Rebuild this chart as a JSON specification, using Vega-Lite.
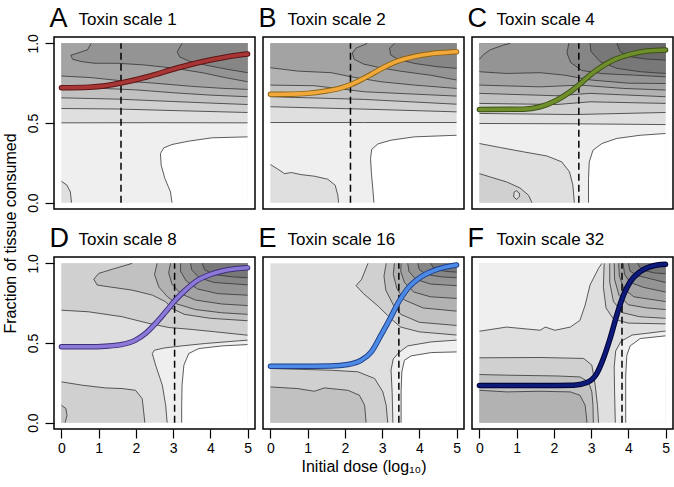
{
"$schema": "https://vega.github.io/schema/vega-lite/v6.json",
"padding": {"left": 1, "top": 3, "right": 1, "bottom": 4},
"bounds": "flush",
"columns": 3,
"spacing": {"row": 48, "column": 8},
"datasets": {
"A": [
{"i":1,"x":0,"y":0,"z":1,"c":1},{"i":1,"x":5,"y":0,"z":1,"c":1},{"i":1,"x":5,"y":1,"z":1,"c":1},{"i":1,"x":0,"y":1,"z":1,"c":1},
{"i":2,"x":5,"y":0.413,"z":0},{"i":2,"x":4.05,"y":0.407,"z":0},{"i":2,"x":3.42,"y":0.386,"z":0},{"i":2,"x":2.97,"y":0.365,"z":0},{"i":2,"x":2.75,"y":0.344,"z":0},{"i":2,"x":2.66,"y":0.308,"z":0},{"i":2,"x":2.68,"y":0.235,"z":0},{"i":2,"x":2.78,"y":0.151,"z":0},{"i":2,"x":2.93,"y":0.067,"z":0},{"i":2,"x":2.97,"y":0,"z":0},{"i":2,"x":5,"y":0,"z":0,"c":1},
{"i":3,"x":0,"y":0.134,"z":2},{"i":3,"x":0.15,"y":0.109,"z":2},{"i":3,"x":0.24,"y":0.067,"z":2},{"i":3,"x":0.27,"y":0,"z":2},{"i":3,"x":0,"y":0,"z":2,"c":1},
{"i":4,"x":0,"y":0.501,"z":2},{"i":4,"x":2.5,"y":0.502,"z":2},{"i":4,"x":5,"y":0.501,"z":2},{"i":4,"x":5,"y":1,"z":2,"c":1},{"i":4,"x":0,"y":1,"z":2,"c":1},
{"i":5,"x":0,"y":0.591,"z":3},{"i":5,"x":1.5,"y":0.588,"z":3},{"i":5,"x":3,"y":0.578,"z":3},{"i":5,"x":5,"y":0.566,"z":3},{"i":5,"x":5,"y":1,"z":3,"c":1},{"i":5,"x":0,"y":1,"z":3,"c":1},
{"i":6,"x":0,"y":0.658,"z":4},{"i":6,"x":1.5,"y":0.65,"z":4},{"i":6,"x":3,"y":0.635,"z":4},{"i":6,"x":4,"y":0.625,"z":4},{"i":6,"x":5,"y":0.616,"z":4},{"i":6,"x":5,"y":1,"z":4,"c":1},{"i":6,"x":0,"y":1,"z":4,"c":1},
{"i":7,"x":0,"y":0.721,"z":5},{"i":7,"x":1,"y":0.718,"z":5},{"i":7,"x":2,"y":0.708,"z":5},{"i":7,"x":3,"y":0.69,"z":5},{"i":7,"x":4,"y":0.675,"z":5},{"i":7,"x":5,"y":0.665,"z":5},{"i":7,"x":5,"y":1,"z":5,"c":1},{"i":7,"x":0,"y":1,"z":5,"c":1},
{"i":8,"x":0,"y":0.795,"z":6},{"i":8,"x":0.8,"y":0.785,"z":6},{"i":8,"x":1.6,"y":0.765,"z":6},{"i":8,"x":2.5,"y":0.75,"z":6},{"i":8,"x":3.5,"y":0.73,"z":6},{"i":8,"x":4.3,"y":0.718,"z":6},{"i":8,"x":5,"y":0.711,"z":6},{"i":8,"x":5,"y":1,"z":6,"c":1},{"i":8,"x":0,"y":1,"z":6,"c":1},
{"i":9,"x":0.8,"y":1,"z":7},{"i":9,"x":0.7,"y":0.96,"z":7},{"i":9,"x":0.45,"y":0.94,"z":7},{"i":9,"x":0.25,"y":0.925,"z":7},{"i":9,"x":0.3,"y":0.9,"z":7},{"i":9,"x":0.55,"y":0.885,"z":7},{"i":9,"x":0.9,"y":0.875,"z":7},{"i":9,"x":1.5,"y":0.875,"z":7},{"i":9,"x":2.2,"y":0.865,"z":7},{"i":9,"x":3,"y":0.845,"z":7},{"i":9,"x":3.8,"y":0.815,"z":7},{"i":9,"x":4.4,"y":0.785,"z":7},{"i":9,"x":5,"y":0.759,"z":7},{"i":9,"x":5,"y":1,"z":7,"c":1},
{"i":10,"x":3.24,"y":1,"z":8},{"i":10,"x":3.11,"y":0.948,"z":8},{"i":10,"x":3.17,"y":0.916,"z":8},{"i":10,"x":3.42,"y":0.889,"z":8},{"i":10,"x":3.87,"y":0.864,"z":8},{"i":10,"x":4.41,"y":0.839,"z":8},{"i":10,"x":5,"y":0.816,"z":8},{"i":10,"x":5,"y":1,"z":8,"c":1}
],
"B": [
{"i":1,"x":0,"y":0,"z":1,"c":1},{"i":1,"x":5,"y":0,"z":1,"c":1},{"i":1,"x":5,"y":1,"z":1,"c":1},{"i":1,"x":0,"y":1,"z":1,"c":1},
{"i":2,"x":5,"y":0.423,"z":0},{"i":2,"x":3.87,"y":0.413,"z":0},{"i":2,"x":3.24,"y":0.392,"z":0},{"i":2,"x":2.89,"y":0.369,"z":0},{"i":2,"x":2.72,"y":0.335,"z":0},{"i":2,"x":2.69,"y":0.277,"z":0},{"i":2,"x":2.71,"y":0.193,"z":0},{"i":2,"x":2.75,"y":0.088,"z":0},{"i":2,"x":2.78,"y":0,"z":0},{"i":2,"x":5,"y":0,"z":0,"c":1},
{"i":3,"x":0,"y":0.239,"z":2},{"i":3,"x":0.2,"y":0.21,"z":2},{"i":3,"x":0.38,"y":0.182,"z":2},{"i":3,"x":0.56,"y":0.189,"z":2},{"i":3,"x":0.82,"y":0.176,"z":2},{"i":3,"x":1.18,"y":0.166,"z":2},{"i":3,"x":1.54,"y":0.147,"z":2},{"i":3,"x":1.74,"y":0.109,"z":2},{"i":3,"x":1.81,"y":0.046,"z":2},{"i":3,"x":1.83,"y":0,"z":2},{"i":3,"x":0,"y":0,"z":2,"c":1},
{"i":4,"x":0,"y":0.503,"z":2},{"i":4,"x":2.5,"y":0.503,"z":2},{"i":4,"x":5,"y":0.503,"z":2},{"i":4,"x":5,"y":1,"z":2,"c":1},{"i":4,"x":0,"y":1,"z":2,"c":1},
{"i":5,"x":0,"y":0.602,"z":3},{"i":5,"x":2.53,"y":0.587,"z":3},{"i":5,"x":5,"y":0.57,"z":3},{"i":5,"x":5,"y":1,"z":3,"c":1},{"i":5,"x":0,"y":1,"z":3,"c":1},
{"i":6,"x":0,"y":0.665,"z":4},{"i":6,"x":2.53,"y":0.648,"z":4},{"i":6,"x":5,"y":0.618,"z":4},{"i":6,"x":5,"y":1,"z":4,"c":1},{"i":6,"x":0,"y":1,"z":4,"c":1},
{"i":7,"x":0,"y":0.738,"z":5},{"i":7,"x":1.18,"y":0.734,"z":5},{"i":7,"x":2.53,"y":0.696,"z":5},{"i":7,"x":5,"y":0.669,"z":5},{"i":7,"x":5,"y":1,"z":5,"c":1},{"i":7,"x":0,"y":1,"z":5,"c":1},
{"i":8,"x":0,"y":0.847,"z":6},{"i":8,"x":0.73,"y":0.826,"z":6},{"i":8,"x":1.63,"y":0.816,"z":6},{"i":8,"x":2.17,"y":0.79,"z":6},{"i":8,"x":2.97,"y":0.759,"z":6},{"i":8,"x":3.87,"y":0.738,"z":6},{"i":8,"x":5,"y":0.717,"z":6},{"i":8,"x":5,"y":1,"z":6,"c":1},{"i":8,"x":0,"y":1,"z":6,"c":1},
{"i":9,"x":2.6,"y":1,"z":7},{"i":9,"x":2.3,"y":0.97,"z":7},{"i":9,"x":2.2,"y":0.94,"z":7},{"i":9,"x":2.25,"y":0.9,"z":7},{"i":9,"x":2.5,"y":0.87,"z":7},{"i":9,"x":3,"y":0.845,"z":7},{"i":9,"x":3.5,"y":0.825,"z":7},{"i":9,"x":4.3,"y":0.8,"z":7},{"i":9,"x":5,"y":0.77,"z":7},{"i":9,"x":5,"y":1,"z":7,"c":1},
{"i":10,"x":3.33,"y":1,"z":8},{"i":10,"x":3.2,"y":0.969,"z":8},{"i":10,"x":3.23,"y":0.927,"z":8},{"i":10,"x":3.42,"y":0.901,"z":8},{"i":10,"x":3.87,"y":0.874,"z":8},{"i":10,"x":4.5,"y":0.853,"z":8},{"i":10,"x":5,"y":0.843,"z":8},{"i":10,"x":5,"y":1,"z":8,"c":1}
],
"C": [
{"i":1,"x":0,"y":0,"z":1,"c":1},{"i":1,"x":5,"y":0,"z":1,"c":1},{"i":1,"x":5,"y":1,"z":1,"c":1},{"i":1,"x":0,"y":1,"z":1,"c":1},
{"i":2,"x":5,"y":0.434,"z":0},{"i":2,"x":4.32,"y":0.423,"z":0},{"i":2,"x":3.69,"y":0.403,"z":0},{"i":2,"x":3.29,"y":0.371,"z":0},{"i":2,"x":3.05,"y":0.329,"z":0},{"i":2,"x":2.95,"y":0.256,"z":0},{"i":2,"x":2.93,"y":0.151,"z":0},{"i":2,"x":2.93,"y":0,"z":0},{"i":2,"x":5,"y":0,"z":0,"c":1},
{"i":3,"x":0,"y":0.371,"z":2},{"i":3,"x":0.56,"y":0.346,"z":2},{"i":3,"x":1.18,"y":0.319,"z":2},{"i":3,"x":1.81,"y":0.293,"z":2},{"i":3,"x":2.21,"y":0.256,"z":2},{"i":3,"x":2.42,"y":0.193,"z":2},{"i":3,"x":2.51,"y":0.109,"z":2},{"i":3,"x":2.55,"y":0,"z":2},{"i":3,"x":0,"y":0,"z":2,"c":1},
{"i":4,"x":0,"y":0.182,"z":3},{"i":4,"x":0.29,"y":0.161,"z":3},{"i":4,"x":0.73,"y":0.13,"z":3},{"i":4,"x":1.09,"y":0.092,"z":3},{"i":4,"x":1.32,"y":0.046,"z":3},{"i":4,"x":1.41,"y":0,"z":3},{"i":4,"x":0,"y":0,"z":3,"c":1},
{"i":5,"x":0.99,"y":0.075,"z":2},{"i":5,"x":1.07,"y":0.06,"z":2},{"i":5,"x":1.08,"y":0.04,"z":2},{"i":5,"x":1,"y":0.02,"z":2},{"i":5,"x":0.92,"y":0.035,"z":2},{"i":5,"x":0.93,"y":0.065,"z":2},{"i":5,"x":0.99,"y":0.075,"z":2},
{"i":6,"x":0,"y":0.497,"z":2},{"i":6,"x":2.5,"y":0.495,"z":2},{"i":6,"x":5,"y":0.49,"z":2},{"i":6,"x":5,"y":1,"z":2,"c":1},{"i":6,"x":0,"y":1,"z":2,"c":1},
{"i":7,"x":0,"y":0.56,"z":3},{"i":7,"x":2.53,"y":0.553,"z":3},{"i":7,"x":5,"y":0.566,"z":3},{"i":7,"x":5,"y":1,"z":3,"c":1},{"i":7,"x":0,"y":1,"z":3,"c":1},
{"i":8,"x":0,"y":0.623,"z":4},{"i":8,"x":2.08,"y":0.616,"z":4},{"i":8,"x":2.97,"y":0.633,"z":4},{"i":8,"x":5,"y":0.623,"z":4},{"i":8,"x":5,"y":1,"z":4,"c":1},{"i":8,"x":0,"y":1,"z":4,"c":1},
{"i":9,"x":0,"y":0.686,"z":5},{"i":9,"x":2.08,"y":0.671,"z":5},{"i":9,"x":2.97,"y":0.686,"z":5},{"i":9,"x":5,"y":0.665,"z":5},{"i":9,"x":5,"y":1,"z":5,"c":1},{"i":9,"x":0,"y":1,"z":5,"c":1},
{"i":10,"x":0,"y":0.738,"z":6},{"i":10,"x":1.63,"y":0.727,"z":6},{"i":10,"x":2.7,"y":0.738,"z":6},{"i":10,"x":3.87,"y":0.717,"z":6},{"i":10,"x":5,"y":0.707,"z":6},{"i":10,"x":5,"y":1,"z":6,"c":1},{"i":10,"x":0,"y":1,"z":6,"c":1},
{"i":11,"x":0,"y":0.822,"z":7},{"i":11,"x":0.73,"y":0.811,"z":7},{"i":11,"x":1.63,"y":0.816,"z":7},{"i":11,"x":2.3,"y":0.8,"z":7},{"i":11,"x":3,"y":0.77,"z":7},{"i":11,"x":4,"y":0.75,"z":7},{"i":11,"x":5,"y":0.748,"z":7},{"i":11,"x":5,"y":1,"z":7,"c":1},{"i":11,"x":0,"y":1,"z":7,"c":1},
{"i":12,"x":0,"y":0.9,"z":6},{"i":12,"x":0.11,"y":0.93,"z":6},{"i":12,"x":0.29,"y":0.96,"z":6},{"i":12,"x":0.65,"y":0.99,"z":6},{"i":12,"x":0.83,"y":1,"z":6},{"i":12,"x":0,"y":1,"z":6,"c":1},
{"i":13,"x":2.4,"y":1,"z":8},{"i":13,"x":2.35,"y":0.94,"z":8},{"i":13,"x":2.45,"y":0.88,"z":8},{"i":13,"x":2.75,"y":0.83,"z":8},{"i":13,"x":3.3,"y":0.81,"z":8},{"i":13,"x":4.2,"y":0.8,"z":8},{"i":13,"x":5,"y":0.79,"z":8},{"i":13,"x":5,"y":1,"z":8,"c":1},
{"i":14,"x":2.97,"y":1,"z":9},{"i":14,"x":3,"y":0.948,"z":9},{"i":14,"x":3.24,"y":0.885,"z":9},{"i":14,"x":3.7,"y":0.843,"z":9},{"i":14,"x":4.32,"y":0.822,"z":9},{"i":14,"x":5,"y":0.811,"z":9},{"i":14,"x":5,"y":1,"z":9,"c":1},
{"i":15,"x":3.69,"y":1,"z":10},{"i":15,"x":3.78,"y":0.948,"z":10},{"i":15,"x":4.05,"y":0.916,"z":10},{"i":15,"x":4.5,"y":0.901,"z":10},{"i":15,"x":5,"y":0.895,"z":10},{"i":15,"x":5,"y":1,"z":10,"c":1}
],
"D": [
{"i":1,"x":0,"y":0,"z":2,"c":1},{"i":1,"x":5,"y":0,"z":2,"c":1},{"i":1,"x":5,"y":1,"z":2,"c":1},{"i":1,"x":0,"y":1,"z":2,"c":1},
{"i":2,"x":2.84,"y":0,"z":1},{"i":2,"x":2.8,"y":0.109,"z":1},{"i":2,"x":2.71,"y":0.235,"z":1},{"i":2,"x":2.53,"y":0.361,"z":1},{"i":2,"x":2.44,"y":0.434,"z":1},{"i":2,"x":2.5,"y":0.455,"z":1},{"i":2,"x":2.77,"y":0.469,"z":1},{"i":2,"x":3.24,"y":0.482,"z":1},{"i":2,"x":3.87,"y":0.497,"z":1},{"i":2,"x":5,"y":0.518,"z":1},{"i":2,"x":5,"y":0,"z":1,"c":1},
{"i":3,"x":5,"y":0.49,"z":0},{"i":3,"x":4.32,"y":0.482,"z":0},{"i":3,"x":3.69,"y":0.465,"z":0},{"i":3,"x":3.42,"y":0.434,"z":0},{"i":3,"x":3.29,"y":0.361,"z":0},{"i":3,"x":3.24,"y":0.235,"z":0},{"i":3,"x":3.23,"y":0.109,"z":0},{"i":3,"x":3.23,"y":0,"z":0},{"i":3,"x":5,"y":0,"z":0,"c":1},
{"i":4,"x":0,"y":0.256,"z":3},{"i":4,"x":0.56,"y":0.235,"z":3},{"i":4,"x":1.18,"y":0.218,"z":3},{"i":4,"x":1.63,"y":0.214,"z":3},{"i":4,"x":1.99,"y":0.203,"z":3},{"i":4,"x":2.17,"y":0.151,"z":3},{"i":4,"x":2.21,"y":0.067,"z":3},{"i":4,"x":2.24,"y":0,"z":3},{"i":4,"x":0,"y":0,"z":3,"c":1},
{"i":5,"x":0,"y":0.109,"z":4},{"i":5,"x":0.12,"y":0.088,"z":4},{"i":5,"x":0.15,"y":0.046,"z":4},{"i":5,"x":0.1,"y":0,"z":4},{"i":5,"x":0,"y":0,"z":4,"c":1},
{"i":6,"x":0,"y":0.706,"z":3},{"i":6,"x":0.73,"y":0.696,"z":3},{"i":6,"x":1.63,"y":0.665,"z":3},{"i":6,"x":2.35,"y":0.623,"z":3},{"i":6,"x":2.89,"y":0.597,"z":3},{"i":6,"x":3.42,"y":0.587,"z":3},{"i":6,"x":4.14,"y":0.57,"z":3},{"i":6,"x":5,"y":0.549,"z":3},{"i":6,"x":5,"y":1,"z":3,"c":1},{"i":6,"x":0,"y":1,"z":3,"c":1},
{"i":7,"x":1.9,"y":1,"z":4},{"i":7,"x":1.45,"y":0.969,"z":4},{"i":7,"x":1,"y":0.937,"z":4},{"i":7,"x":0.87,"y":0.9,"z":4},{"i":7,"x":0.96,"y":0.864,"z":4},{"i":7,"x":1.27,"y":0.853,"z":4},{"i":7,"x":1.9,"y":0.832,"z":4},{"i":7,"x":2.44,"y":0.801,"z":4},{"i":7,"x":2.8,"y":0.759,"z":4},{"i":7,"x":2.97,"y":0.717,"z":4},{"i":7,"x":3.3,"y":0.68,"z":4},{"i":7,"x":4,"y":0.655,"z":4},{"i":7,"x":5,"y":0.64,"z":4},{"i":7,"x":5,"y":1,"z":4,"c":1},
{"i":8,"x":2.57,"y":1,"z":5},{"i":8,"x":2.5,"y":0.93,"z":5},{"i":8,"x":2.62,"y":0.85,"z":5},{"i":8,"x":2.85,"y":0.79,"z":5},{"i":8,"x":3.1,"y":0.745,"z":5},{"i":8,"x":3.6,"y":0.71,"z":5},{"i":8,"x":4.3,"y":0.69,"z":5},{"i":8,"x":5,"y":0.68,"z":5},{"i":8,"x":5,"y":1,"z":5,"c":1},
{"i":9,"x":2.93,"y":1,"z":6},{"i":9,"x":2.88,"y":0.94,"z":6},{"i":9,"x":2.97,"y":0.87,"z":6},{"i":9,"x":3.2,"y":0.81,"z":6},{"i":9,"x":3.6,"y":0.77,"z":6},{"i":9,"x":4.3,"y":0.745,"z":6},{"i":9,"x":5,"y":0.735,"z":6},{"i":9,"x":5,"y":1,"z":6,"c":1},
{"i":10,"x":3.2,"y":1,"z":7},{"i":10,"x":3.2,"y":0.95,"z":7},{"i":10,"x":3.35,"y":0.89,"z":7},{"i":10,"x":3.65,"y":0.84,"z":7},{"i":10,"x":4.2,"y":0.81,"z":7},{"i":10,"x":5,"y":0.8,"z":7},{"i":10,"x":5,"y":1,"z":7,"c":1},
{"i":11,"x":3.47,"y":1,"z":8},{"i":11,"x":3.5,"y":0.96,"z":8},{"i":11,"x":3.7,"y":0.91,"z":8},{"i":11,"x":4.1,"y":0.88,"z":8},{"i":11,"x":5,"y":0.865,"z":8},{"i":11,"x":5,"y":1,"z":8,"c":1},
{"i":12,"x":3.78,"y":1,"z":9},{"i":12,"x":3.85,"y":0.96,"z":9},{"i":12,"x":4.1,"y":0.93,"z":9},{"i":12,"x":4.6,"y":0.915,"z":9},{"i":12,"x":5,"y":0.91,"z":9},{"i":12,"x":5,"y":1,"z":9,"c":1}
],
"E": [
{"i":1,"x":0,"y":0,"z":2,"c":1},{"i":1,"x":5,"y":0,"z":2,"c":1},{"i":1,"x":5,"y":1,"z":2,"c":1},{"i":1,"x":0,"y":1,"z":2,"c":1},
{"i":2,"x":3.29,"y":0,"z":1},{"i":2,"x":3.27,"y":0.19,"z":1},{"i":2,"x":3.24,"y":0.33,"z":1},{"i":2,"x":3.3,"y":0.4,"z":1},{"i":2,"x":3.45,"y":0.44,"z":1},{"i":2,"x":3.69,"y":0.482,"z":1},{"i":2,"x":4.32,"y":0.507,"z":1},{"i":2,"x":5,"y":0.518,"z":1},{"i":2,"x":5,"y":0,"z":1,"c":1},
{"i":3,"x":5,"y":0.444,"z":0},{"i":3,"x":4.32,"y":0.44,"z":0},{"i":3,"x":3.78,"y":0.419,"z":0},{"i":3,"x":3.6,"y":0.392,"z":0},{"i":3,"x":3.53,"y":0.319,"z":0},{"i":3,"x":3.51,"y":0.193,"z":0},{"i":3,"x":3.51,"y":0,"z":0},{"i":3,"x":5,"y":0,"z":0,"c":1},
{"i":4,"x":0,"y":0.34,"z":3},{"i":4,"x":1.63,"y":0.329,"z":3},{"i":4,"x":2.35,"y":0.319,"z":3},{"i":4,"x":2.8,"y":0.277,"z":3},{"i":4,"x":3.02,"y":0.193,"z":3},{"i":4,"x":3.11,"y":0.109,"z":3},{"i":4,"x":3.15,"y":0,"z":3},{"i":4,"x":0,"y":0,"z":3,"c":1},
{"i":5,"x":0,"y":0.224,"z":4},{"i":5,"x":0.73,"y":0.214,"z":4},{"i":5,"x":1.18,"y":0.197,"z":4},{"i":5,"x":1.45,"y":0.218,"z":4},{"i":5,"x":2.08,"y":0.203,"z":4},{"i":5,"x":2.39,"y":0.172,"z":4},{"i":5,"x":2.53,"y":0.109,"z":4},{"i":5,"x":2.57,"y":0,"z":4},{"i":5,"x":0,"y":0,"z":4,"c":1},
{"i":6,"x":2.62,"y":1,"z":3},{"i":6,"x":2.45,"y":0.9,"z":3},{"i":6,"x":2.3,"y":0.86,"z":3},{"i":6,"x":2.5,"y":0.81,"z":3},{"i":6,"x":2.9,"y":0.73,"z":3},{"i":6,"x":3.25,"y":0.65,"z":3},{"i":6,"x":3.5,"y":0.6,"z":3},{"i":6,"x":4,"y":0.57,"z":3},{"i":6,"x":5,"y":0.55,"z":3},{"i":6,"x":5,"y":1,"z":3,"c":1},
{"i":7,"x":3.11,"y":1,"z":4},{"i":7,"x":3.05,"y":0.92,"z":4},{"i":7,"x":3.1,"y":0.83,"z":4},{"i":7,"x":3.3,"y":0.74,"z":4},{"i":7,"x":3.5,"y":0.68,"z":4},{"i":7,"x":4,"y":0.63,"z":4},{"i":7,"x":5,"y":0.61,"z":4},{"i":7,"x":5,"y":1,"z":4,"c":1},
{"i":8,"x":3.33,"y":1,"z":5},{"i":8,"x":3.3,"y":0.93,"z":5},{"i":8,"x":3.4,"y":0.84,"z":5},{"i":8,"x":3.6,"y":0.77,"z":5},{"i":8,"x":4.1,"y":0.72,"z":5},{"i":8,"x":5,"y":0.7,"z":5},{"i":8,"x":5,"y":1,"z":5,"c":1},
{"i":9,"x":3.51,"y":1,"z":6},{"i":9,"x":3.5,"y":0.95,"z":6},{"i":9,"x":3.6,"y":0.88,"z":6},{"i":9,"x":3.85,"y":0.82,"z":6},{"i":9,"x":4.3,"y":0.79,"z":6},{"i":9,"x":5,"y":0.78,"z":6},{"i":9,"x":5,"y":1,"z":6,"c":1},
{"i":10,"x":3.69,"y":1,"z":7},{"i":10,"x":3.72,"y":0.95,"z":7},{"i":10,"x":3.9,"y":0.9,"z":7},{"i":10,"x":4.3,"y":0.87,"z":7},{"i":10,"x":5,"y":0.86,"z":7},{"i":10,"x":5,"y":1,"z":7,"c":1},
{"i":11,"x":3.96,"y":1,"z":8},{"i":11,"x":4,"y":0.96,"z":8},{"i":11,"x":4.2,"y":0.93,"z":8},{"i":11,"x":4.6,"y":0.915,"z":8},{"i":11,"x":5,"y":0.91,"z":8},{"i":11,"x":5,"y":1,"z":8,"c":1},
{"i":12,"x":4.3,"y":1,"z":9},{"i":12,"x":4.4,"y":0.965,"z":9},{"i":12,"x":4.7,"y":0.95,"z":9},{"i":12,"x":5,"y":0.945,"z":9},{"i":12,"x":5,"y":1,"z":9,"c":1}
],
"F": [
{"i":1,"x":0,"y":0,"z":2,"c":1},{"i":1,"x":5,"y":0,"z":2,"c":1},{"i":1,"x":5,"y":1,"z":2,"c":1},{"i":1,"x":0,"y":1,"z":2,"c":1},
{"i":2,"x":3.65,"y":0,"z":1},{"i":2,"x":3.63,"y":0.2,"z":1},{"i":2,"x":3.62,"y":0.35,"z":1},{"i":2,"x":3.66,"y":0.45,"z":1},{"i":2,"x":3.8,"y":0.51,"z":1},{"i":2,"x":4.1,"y":0.55,"z":1},{"i":2,"x":5,"y":0.575,"z":1},{"i":2,"x":5,"y":0,"z":1,"c":1},
{"i":3,"x":5,"y":0.545,"z":0},{"i":3,"x":4.32,"y":0.528,"z":0},{"i":3,"x":4.05,"y":0.482,"z":0},{"i":3,"x":3.96,"y":0.423,"z":0},{"i":3,"x":3.93,"y":0.298,"z":0},{"i":3,"x":3.93,"y":0,"z":0},{"i":3,"x":5,"y":0,"z":0,"c":1},
{"i":4,"x":0,"y":0.574,"z":1},{"i":4,"x":0.73,"y":0.6,"z":1},{"i":4,"x":1.63,"y":0.58,"z":1},{"i":4,"x":1.77,"y":0.6,"z":1},{"i":4,"x":2.03,"y":0.58,"z":1},{"i":4,"x":2.44,"y":0.6,"z":1},{"i":4,"x":2.7,"y":0.642,"z":1},{"i":4,"x":2.84,"y":0.738,"z":1},{"i":4,"x":2.97,"y":0.864,"z":1},{"i":4,"x":3.2,"y":0.969,"z":1},{"i":4,"x":3.29,"y":1,"z":1},{"i":4,"x":0,"y":1,"z":1,"c":1},
{"i":5,"x":0,"y":0.407,"z":3},{"i":5,"x":1.63,"y":0.409,"z":3},{"i":5,"x":2.8,"y":0.403,"z":3},{"i":5,"x":3.02,"y":0.361,"z":3},{"i":5,"x":3.11,"y":0.235,"z":3},{"i":5,"x":3.17,"y":0.109,"z":3},{"i":5,"x":3.2,"y":0,"z":3},{"i":5,"x":0,"y":0,"z":3,"c":1},
{"i":6,"x":0,"y":0.302,"z":4},{"i":6,"x":0.73,"y":0.298,"z":4},{"i":6,"x":2.08,"y":0.293,"z":4},{"i":6,"x":2.7,"y":0.287,"z":4},{"i":6,"x":2.93,"y":0.256,"z":4},{"i":6,"x":3.02,"y":0.193,"z":4},{"i":6,"x":3.05,"y":0.109,"z":4},{"i":6,"x":3.06,"y":0,"z":4},{"i":6,"x":0,"y":0,"z":4,"c":1},
{"i":7,"x":0,"y":0.203,"z":5},{"i":7,"x":0.73,"y":0.193,"z":5},{"i":7,"x":1.63,"y":0.197,"z":5},{"i":7,"x":2.44,"y":0.193,"z":5},{"i":7,"x":2.7,"y":0.172,"z":5},{"i":7,"x":2.84,"y":0.109,"z":5},{"i":7,"x":2.89,"y":0,"z":5},{"i":7,"x":0,"y":0,"z":5,"c":1},
{"i":8,"x":3.35,"y":1,"z":3},{"i":8,"x":3.33,"y":0.85,"z":3},{"i":8,"x":3.4,"y":0.72,"z":3},{"i":8,"x":3.6,"y":0.65,"z":3},{"i":8,"x":4,"y":0.625,"z":3},{"i":8,"x":5,"y":0.62,"z":3},{"i":8,"x":5,"y":1,"z":3,"c":1},
{"i":9,"x":3.5,"y":1,"z":4},{"i":9,"x":3.5,"y":0.88,"z":4},{"i":9,"x":3.6,"y":0.76,"z":4},{"i":9,"x":3.85,"y":0.69,"z":4},{"i":9,"x":4.3,"y":0.665,"z":4},{"i":9,"x":5,"y":0.655,"z":4},{"i":9,"x":5,"y":1,"z":4,"c":1},
{"i":10,"x":3.62,"y":1,"z":5},{"i":10,"x":3.63,"y":0.9,"z":5},{"i":10,"x":3.75,"y":0.8,"z":5},{"i":10,"x":4,"y":0.74,"z":5},{"i":10,"x":4.5,"y":0.72,"z":5},{"i":10,"x":5,"y":0.71,"z":5},{"i":10,"x":5,"y":1,"z":5,"c":1},
{"i":11,"x":3.74,"y":1,"z":6},{"i":11,"x":3.76,"y":0.92,"z":6},{"i":11,"x":3.88,"y":0.84,"z":6},{"i":11,"x":4.15,"y":0.79,"z":6},{"i":11,"x":5,"y":0.76,"z":6},{"i":11,"x":5,"y":1,"z":6,"c":1},
{"i":12,"x":3.86,"y":1,"z":7},{"i":12,"x":3.9,"y":0.93,"z":7},{"i":12,"x":4.05,"y":0.88,"z":7},{"i":12,"x":4.4,"y":0.85,"z":7},{"i":12,"x":5,"y":0.82,"z":7},{"i":12,"x":5,"y":1,"z":7,"c":1},
{"i":13,"x":4,"y":1,"z":8},{"i":13,"x":4.05,"y":0.95,"z":8},{"i":13,"x":4.3,"y":0.92,"z":8},{"i":13,"x":5,"y":0.88,"z":8},{"i":13,"x":5,"y":1,"z":8,"c":1},
{"i":14,"x":4.25,"y":1,"z":9},{"i":14,"x":4.35,"y":0.96,"z":9},{"i":14,"x":4.7,"y":0.94,"z":9},{"i":14,"x":5,"y":0.935,"z":9},{"i":14,"x":5,"y":1,"z":9,"c":1}
],
"sA": [{"x":0,"y":0.721},{"x":0.74,"y":0.725},{"x":1.18,"y":0.734},{"x":1.63,"y":0.753},{"x":2.08,"y":0.776},{"x":2.53,"y":0.805},{"x":2.97,"y":0.836},{"x":3.42,"y":0.864},{"x":3.87,"y":0.889},{"x":4.32,"y":0.91},{"x":4.77,"y":0.927},{"x":5,"y":0.933}],
"sB": [{"x":0,"y":0.68},{"x":0.56,"y":0.681},{"x":1,"y":0.686},{"x":1.45,"y":0.699},{"x":1.9,"y":0.72},{"x":2.15,"y":0.74},{"x":2.44,"y":0.772},{"x":2.71,"y":0.806},{"x":2.97,"y":0.84},{"x":3.42,"y":0.889},{"x":3.87,"y":0.918},{"x":4.32,"y":0.935},{"x":4.77,"y":0.944},{"x":5,"y":0.948}],
"sC": [{"x":0,"y":0.585},{"x":1.18,"y":0.587},{"x":1.63,"y":0.602},{"x":2.08,"y":0.644},{"x":2.44,"y":0.696},{"x":2.69,"y":0.742},{"x":2.97,"y":0.801},{"x":3.24,"y":0.847},{"x":3.6,"y":0.895},{"x":4.05,"y":0.931},{"x":4.5,"y":0.952},{"x":5,"y":0.958}],
"sD": [{"x":0,"y":0.476},{"x":0.73,"y":0.476},{"x":1.18,"y":0.48},{"x":1.63,"y":0.491},{"x":1.99,"y":0.518},{"x":2.26,"y":0.56},{"x":2.53,"y":0.623},{"x":2.8,"y":0.696},{"x":3.06,"y":0.769},{"x":3.33,"y":0.832},{"x":3.6,"y":0.885},{"x":3.96,"y":0.927},{"x":4.32,"y":0.952},{"x":4.68,"y":0.966},{"x":5,"y":0.973}],
"sE": [{"x":0,"y":0.354},{"x":0.73,"y":0.354},{"x":1.63,"y":0.356},{"x":2.08,"y":0.365},{"x":2.44,"y":0.392},{"x":2.71,"y":0.444},{"x":2.97,"y":0.549},{"x":3.24,"y":0.665},{"x":3.42,"y":0.748},{"x":3.69,"y":0.843},{"x":4.05,"y":0.916},{"x":4.5,"y":0.964},{"x":5,"y":0.99}],
"sF": [{"x":0,"y":0.233},{"x":0.73,"y":0.233},{"x":1.63,"y":0.233},{"x":2.53,"y":0.235},{"x":2.89,"y":0.252},{"x":3.15,"y":0.308},{"x":3.33,"y":0.403},{"x":3.51,"y":0.528},{"x":3.69,"y":0.675},{"x":3.87,"y":0.801},{"x":4.05,"y":0.885},{"x":4.32,"y":0.948},{"x":4.68,"y":0.985},{"x":5,"y":0.994}],
"d": [{"p":"A","x":1.6,"y":0,"y2":1},{"p":"B","x":2.15,"y":0,"y2":1},{"p":"C","x":2.67,"y":0,"y2":1},{"p":"D","x":3.04,"y":0,"y2":1},{"p":"E","x":3.45,"y":0,"y2":1},{"p":"F","x":3.83,"y":0,"y2":1}]
},
"concat": [
{"width":201,"height":172,"resolve":{"axis":{"x":"independent","y":"independent"}},
"encoding":{"x":{"field":"x","type":"quantitative","scale":{"domain":[-0.2,5.2],"nice":false,"zero":false},"axis":null},"y":{"field":"y","type":"quantitative","scale":{"domain":[-0.04,1.04],"nice":false,"zero":false},"axis":null}},
"layer":[
{"data":{"name":"A"},"mark":{"type":"line","strokeWidth":0},"encoding":{"y":{"field":"y","type":"quantitative","axis":{"orient":"left","values":[0,0.5,1],"format":".1f","title":"Fraction of tissue consumed","titleX":-44,"titleY":196,"titleAngle":-90,"titleAlign":"center","titleBaseline":"middle","titleFontSize":16}},"detail":{"field":"i","type":"nominal"},"order":{"value":null},"fill":{"field":"z","type":"quantitative","scale":{"domain":[0,10],"range":["#ffffff","#6a6a6a"]},"legend":null}}},
{"data":{"name":"A"},"transform":[{"filter":"!datum.c"}],"mark":{"type":"line","color":"#333333","strokeWidth":0.8},"encoding":{"x":{"field":"x","type":"quantitative","axis":{"orient":"top","title":"A"}},"detail":{"field":"i","type":"nominal"},"order":{"value":null}}},
{"data":{"name":"d"},"transform":[{"filter":"datum.p=='A'"}],"mark":{"type":"rule","color":"#000000","strokeWidth":1.5,"strokeDash":[7,4]},"encoding":{"y2":{"field":"y2"}}},
{"data":{"name":"sA"},"mark":{"type":"line","color":"#5c1414","strokeWidth":5.5,"interpolate":"monotone","strokeCap":"round"},"encoding":{}},
{"data":{"name":"sA"},"mark":{"type":"line","color":"#a93636","strokeWidth":3.6,"interpolate":"monotone","strokeCap":"round"},"encoding":{"y":{"field":"y","type":"quantitative","axis":{"orient":"right","title":"Toxin scale 1"}}}}
]},
{"width":201,"height":172,"resolve":{"axis":{"x":"independent","y":"independent"}},
"encoding":{"x":{"field":"x","type":"quantitative","scale":{"domain":[-0.2,5.2],"nice":false,"zero":false},"axis":null},"y":{"field":"y","type":"quantitative","scale":{"domain":[-0.04,1.04],"nice":false,"zero":false},"axis":null}},
"layer":[
{"data":{"name":"B"},"mark":{"type":"line","strokeWidth":0},"encoding":{"detail":{"field":"i","type":"nominal"},"order":{"value":null},"fill":{"field":"z","type":"quantitative","scale":{"domain":[0,10],"range":["#ffffff","#6a6a6a"]},"legend":null}}},
{"data":{"name":"B"},"transform":[{"filter":"!datum.c"}],"mark":{"type":"line","color":"#333333","strokeWidth":0.8},"encoding":{"x":{"field":"x","type":"quantitative","axis":{"orient":"top","title":"B"}},"detail":{"field":"i","type":"nominal"},"order":{"value":null}}},
{"data":{"name":"d"},"transform":[{"filter":"datum.p=='B'"}],"mark":{"type":"rule","color":"#000000","strokeWidth":1.5,"strokeDash":[7,4]},"encoding":{"y2":{"field":"y2"}}},
{"data":{"name":"sB"},"mark":{"type":"line","color":"#8c6414","strokeWidth":5.5,"interpolate":"monotone","strokeCap":"round"},"encoding":{}},
{"data":{"name":"sB"},"mark":{"type":"line","color":"#f2a93b","strokeWidth":3.6,"interpolate":"monotone","strokeCap":"round"},"encoding":{"y":{"field":"y","type":"quantitative","axis":{"orient":"right","title":"Toxin scale 2"}}}}
]},
{"width":201,"height":172,"resolve":{"axis":{"x":"independent","y":"independent"}},
"encoding":{"x":{"field":"x","type":"quantitative","scale":{"domain":[-0.2,5.2],"nice":false,"zero":false},"axis":null},"y":{"field":"y","type":"quantitative","scale":{"domain":[-0.04,1.04],"nice":false,"zero":false},"axis":null}},
"layer":[
{"data":{"name":"C"},"mark":{"type":"line","strokeWidth":0},"encoding":{"detail":{"field":"i","type":"nominal"},"order":{"value":null},"fill":{"field":"z","type":"quantitative","scale":{"domain":[0,10],"range":["#ffffff","#6a6a6a"]},"legend":null}}},
{"data":{"name":"C"},"transform":[{"filter":"!datum.c"}],"mark":{"type":"line","color":"#333333","strokeWidth":0.8},"encoding":{"x":{"field":"x","type":"quantitative","axis":{"orient":"top","title":"C"}},"detail":{"field":"i","type":"nominal"},"order":{"value":null}}},
{"data":{"name":"d"},"transform":[{"filter":"datum.p=='C'"}],"mark":{"type":"rule","color":"#000000","strokeWidth":1.5,"strokeDash":[7,4]},"encoding":{"y2":{"field":"y2"}}},
{"data":{"name":"sC"},"mark":{"type":"line","color":"#3d5014","strokeWidth":5.5,"interpolate":"monotone","strokeCap":"round"},"encoding":{}},
{"data":{"name":"sC"},"mark":{"type":"line","color":"#6f8f2c","strokeWidth":3.6,"interpolate":"monotone","strokeCap":"round"},"encoding":{"y":{"field":"y","type":"quantitative","axis":{"orient":"right","title":"Toxin scale 4"}}}}
]},
{"width":201,"height":172,"resolve":{"axis":{"x":"independent","y":"independent"}},
"encoding":{"x":{"field":"x","type":"quantitative","scale":{"domain":[-0.2,5.2],"nice":false,"zero":false},"axis":null},"y":{"field":"y","type":"quantitative","scale":{"domain":[-0.04,1.04],"nice":false,"zero":false},"axis":null}},
"layer":[
{"data":{"name":"D"},"mark":{"type":"line","strokeWidth":0},"encoding":{"x":{"field":"x","type":"quantitative","axis":{"orient":"bottom","values":[0,1,2,3,4,5],"title":null}},"y":{"field":"y","type":"quantitative","axis":{"orient":"left","values":[0,0.5,1],"format":".1f","title":null}},"detail":{"field":"i","type":"nominal"},"order":{"value":null},"fill":{"field":"z","type":"quantitative","scale":{"domain":[0,10],"range":["#ffffff","#6a6a6a"]},"legend":null}}},
{"data":{"name":"D"},"transform":[{"filter":"!datum.c"}],"mark":{"type":"line","color":"#333333","strokeWidth":0.8},"encoding":{"x":{"field":"x","type":"quantitative","axis":{"orient":"top","title":"D"}},"detail":{"field":"i","type":"nominal"},"order":{"value":null}}},
{"data":{"name":"d"},"transform":[{"filter":"datum.p=='D'"}],"mark":{"type":"rule","color":"#000000","strokeWidth":1.5,"strokeDash":[7,4]},"encoding":{"y2":{"field":"y2"}}},
{"data":{"name":"sD"},"mark":{"type":"line","color":"#3e2f7a","strokeWidth":5.5,"interpolate":"monotone","strokeCap":"round"},"encoding":{}},
{"data":{"name":"sD"},"mark":{"type":"line","color":"#8c78d6","strokeWidth":3.6,"interpolate":"monotone","strokeCap":"round"},"encoding":{"y":{"field":"y","type":"quantitative","axis":{"orient":"right","title":"Toxin scale 8"}}}}
]},
{"width":201,"height":172,"resolve":{"axis":{"x":"independent","y":"independent"}},
"encoding":{"x":{"field":"x","type":"quantitative","scale":{"domain":[-0.2,5.2],"nice":false,"zero":false},"axis":null},"y":{"field":"y","type":"quantitative","scale":{"domain":[-0.04,1.04],"nice":false,"zero":false},"axis":null}},
"layer":[
{"data":{"name":"E"},"mark":{"type":"line","strokeWidth":0},"encoding":{"x":{"field":"x","type":"quantitative","axis":{"orient":"bottom","values":[0,1,2,3,4,5],"title":"Initial dose (log\u2081\u2080)"}},"detail":{"field":"i","type":"nominal"},"order":{"value":null},"fill":{"field":"z","type":"quantitative","scale":{"domain":[0,10],"range":["#ffffff","#6a6a6a"]},"legend":null}}},
{"data":{"name":"E"},"transform":[{"filter":"!datum.c"}],"mark":{"type":"line","color":"#333333","strokeWidth":0.8},"encoding":{"x":{"field":"x","type":"quantitative","axis":{"orient":"top","title":"E"}},"detail":{"field":"i","type":"nominal"},"order":{"value":null}}},
{"data":{"name":"d"},"transform":[{"filter":"datum.p=='E'"}],"mark":{"type":"rule","color":"#000000","strokeWidth":1.5,"strokeDash":[7,4]},"encoding":{"y2":{"field":"y2"}}},
{"data":{"name":"sE"},"mark":{"type":"line","color":"#1c3f8a","strokeWidth":5.5,"interpolate":"monotone","strokeCap":"round"},"encoding":{}},
{"data":{"name":"sE"},"mark":{"type":"line","color":"#4d8ae6","strokeWidth":3.6,"interpolate":"monotone","strokeCap":"round"},"encoding":{"y":{"field":"y","type":"quantitative","axis":{"orient":"right","title":"Toxin scale 16"}}}}
]},
{"width":201,"height":172,"resolve":{"axis":{"x":"independent","y":"independent"}},
"encoding":{"x":{"field":"x","type":"quantitative","scale":{"domain":[-0.2,5.2],"nice":false,"zero":false},"axis":null},"y":{"field":"y","type":"quantitative","scale":{"domain":[-0.04,1.04],"nice":false,"zero":false},"axis":null}},
"layer":[
{"data":{"name":"F"},"mark":{"type":"line","strokeWidth":0},"encoding":{"x":{"field":"x","type":"quantitative","axis":{"orient":"bottom","values":[0,1,2,3,4,5],"title":null}},"detail":{"field":"i","type":"nominal"},"order":{"value":null},"fill":{"field":"z","type":"quantitative","scale":{"domain":[0,10],"range":["#ffffff","#6a6a6a"]},"legend":null}}},
{"data":{"name":"F"},"transform":[{"filter":"!datum.c"}],"mark":{"type":"line","color":"#333333","strokeWidth":0.8},"encoding":{"x":{"field":"x","type":"quantitative","axis":{"orient":"top","title":"F"}},"detail":{"field":"i","type":"nominal"},"order":{"value":null}}},
{"data":{"name":"d"},"transform":[{"filter":"datum.p=='F'"}],"mark":{"type":"rule","color":"#000000","strokeWidth":1.5,"strokeDash":[7,4]},"encoding":{"y2":{"field":"y2"}}},
{"data":{"name":"sF"},"mark":{"type":"line","color":"#000033","strokeWidth":5.5,"interpolate":"monotone","strokeCap":"round"},"encoding":{}},
{"data":{"name":"sF"},"mark":{"type":"line","color":"#0d1a7a","strokeWidth":3.6,"interpolate":"monotone","strokeCap":"round"},"encoding":{"y":{"field":"y","type":"quantitative","axis":{"orient":"right","title":"Toxin scale 32"}}}}
]}
],
"config": {
"view": {"stroke": "#000000", "strokeWidth": 1.5},
"font": "Liberation Sans",
"axis": {"domain": false, "grid": false, "tickColor": "#000000", "tickSize": 9, "tickWidth": 1.2, "labelFont": "Liberation Sans", "labelFontSize": 14, "labelColor": "#000000", "titleFont": "Liberation Sans", "titleFontSize": 16, "titleFontWeight": "normal", "titleColor": "#000000"},
"axisLeft": {"labelAngle": -90, "labelAlign": "center", "labelBaseline": "bottom", "labelPadding": 5},
"axisBottom": {"labelPadding": 3, "titlePadding": 3},
"axisTop": {"labels": false, "ticks": false, "domain": false, "titleFontSize": 27, "titleX": -5, "titleY": -11, "titleAlign": "left", "titleBaseline": "alphabetic", "titleAngle": 0},
"axisRight": {"labels": false, "ticks": false, "domain": false, "titleFontSize": 17, "titleX": -177, "titleY": -13, "titleAlign": "left", "titleBaseline": "alphabetic", "titleAngle": 0}
}
}
